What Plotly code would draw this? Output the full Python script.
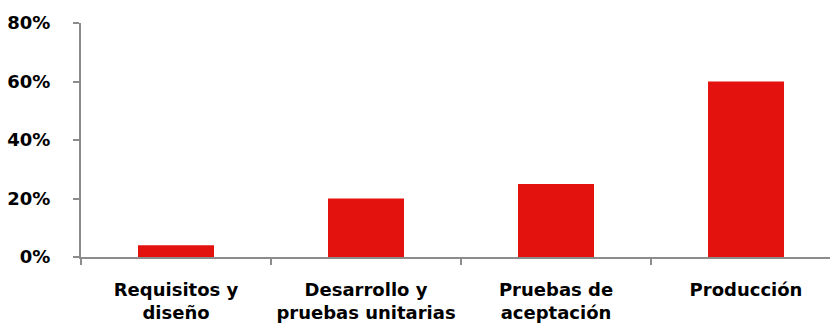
import plotly.graph_objects as go

# Share of defects found per phase
phases = ["Requisitos y<br>diseño", "Desarrollo y<br>pruebas unitarias",
          "Pruebas de<br>aceptación", "Producción"]
shares = [0.04, 0.20, 0.25, 0.60]

y_ticks = [0, 0.2, 0.4, 0.6, 0.8]
y_tick_labels = ["0%", "20%", "40%", "60%", "80%"]

BAR_RED = "#E3120F"
AXIS_GREY = "#8C8C8C"
FONT = "DejaVu Sans, Liberation Sans, Arial, sans-serif"

fig = go.Figure(
    go.Bar(x=phases, y=shares, marker=dict(color=BAR_RED, line=dict(width=0)), width=0.4)
)

fig.update_layout(
    width=830, height=327,
    margin=dict(l=81, r=0, t=23, b=70),
    plot_bgcolor="white", paper_bgcolor="white",
    showlegend=False,
    bargap=0.6,
)

fig.update_xaxes(
    range=[-0.5, 3.442],
    showline=True, linecolor=AXIS_GREY, linewidth=2,
    ticks="outside", tickson="boundaries", ticklen=6, tickcolor=AXIS_GREY, tickwidth=2,
    tickfont=dict(family=FONT, size=18, color="#000000", weight="bold"),
    ticklabelstandoff=15,
    showgrid=False, zeroline=False,
)

fig.update_yaxes(
    range=[0, 0.8],
    tickvals=y_ticks, ticktext=y_tick_labels,
    showline=True, linecolor=AXIS_GREY, linewidth=2,
    ticks="outside", ticklen=6, tickcolor=AXIS_GREY, tickwidth=2,
    tickfont=dict(family=FONT, size=18, color="#000000", weight="bold"),
    ticklabelstandoff=19,
    showgrid=False, zeroline=False,
)

fig.write_html("out.html")
